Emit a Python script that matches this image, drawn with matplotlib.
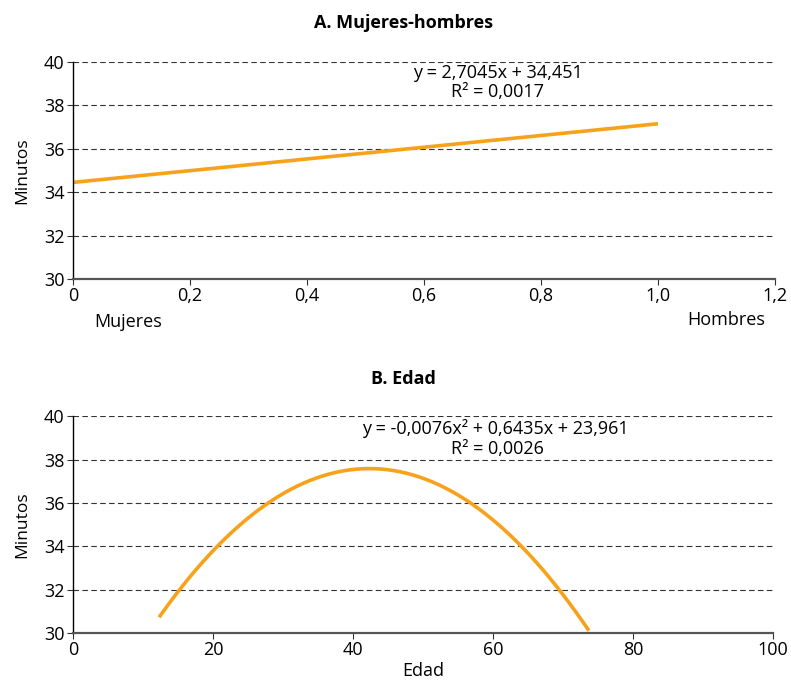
import numpy as np
import matplotlib.pyplot as plt

plt.rcParams['font.family'] = ['Open Sans', 'DejaVu Sans']

# trendline coefficients as printed on the chart
sexo_coef = [2.7045, 34.451]          # slope, intercept
sexo_x = [0.0, 1.0]
sexo_r2 = "0,0017"

edad_coef = [-0.0076, 0.6435, 23.961]  # x^2, x, const
edad_x = [12.3, 73.7]
edad_r2 = "0,0026"

y_ticks = [30, 32, 34, 36, 38, 40]
xa_ticks = [0, 0.2, 0.4, 0.6, 0.8, 1.0, 1.2]
xa_labels = ["0", "0,2", "0,4", "0,6", "0,8", "1,0", "1,2"]
xb_ticks = [0, 20, 40, 60, 80, 100]

orange = "#F7A21B"

fig = plt.figure(figsize=(7.91, 6.82), dpi=100)
ax1 = fig.add_axes([0.0923, 0.591, 0.8875, 0.318])
ax2 = fig.add_axes([0.0923, 0.0718, 0.885, 0.318])


def style(ax):
    ax.set_ylim(30, 40)
    ax.set_yticks(y_ticks)
    ax.grid(axis='y', linestyle=(0, (5, 3)), color='#333333', linewidth=0.8)
    ax.set_axisbelow(True)
    for s in ['top', 'right']:
        ax.spines[s].set_visible(False)
    ax.spines['left'].set_color('black')
    ax.spines['left'].set_linewidth(1.0)
    ax.spines['bottom'].set_color('#555555')
    ax.spines['bottom'].set_linewidth(1.6)
    ax.tick_params(axis='both', labelsize=13, length=4, color='#333333', pad=2)
    ax.set_ylabel("Minutos", fontsize=12.5, labelpad=10)


# Panel A
xs = np.array(sexo_x)
ax1.plot(xs, sexo_coef[0] * xs + sexo_coef[1], color=orange, linewidth=2.6, solid_capstyle='butt')
style(ax1)
ax1.set_xlim(0, 1.2)
ax1.set_xticks(xa_ticks)
ax1.set_xticklabels(xa_labels)
ax1.text(0.726, 39.5, "y = 2,7045x + 34,451", ha='center', va='center', fontsize=13)
ax1.text(0.725, 38.6, "R² = " + sexo_r2, ha='center', va='center', fontsize=13)
ax1.text(0.036, 28.0, "Mujeres", ha='left', va='center', fontsize=13, clip_on=False)
ax1.text(1.117, 28.1, "Hombres", ha='center', va='center', fontsize=13, clip_on=False)
fig.text(0.51, 0.967, "A. Mujeres-hombres", ha='center', va='center', fontsize=13, fontweight='bold')

# Panel B
xe = np.linspace(edad_x[0], edad_x[1], 200)
ye = edad_coef[0] * xe ** 2 + edad_coef[1] * xe + edad_coef[2]
ax2.plot(xe, ye, color=orange, linewidth=2.6, solid_capstyle='butt')
style(ax2)
ax2.set_xlim(0, 100)
ax2.set_xticks(xb_ticks)
ax2.set_xlabel("Edad", fontsize=13, labelpad=2)
ax2.text(60.3, 39.45, "y = -0,0076x² + 0,6435x + 23,961", ha='center', va='center', fontsize=13)
ax2.text(60.6, 38.48, "R² = " + edad_r2, ha='center', va='center', fontsize=13)
fig.text(0.51, 0.445, "B. Edad", ha='center', va='center', fontsize=13, fontweight='bold')

fig.savefig("out.png", dpi=100)
